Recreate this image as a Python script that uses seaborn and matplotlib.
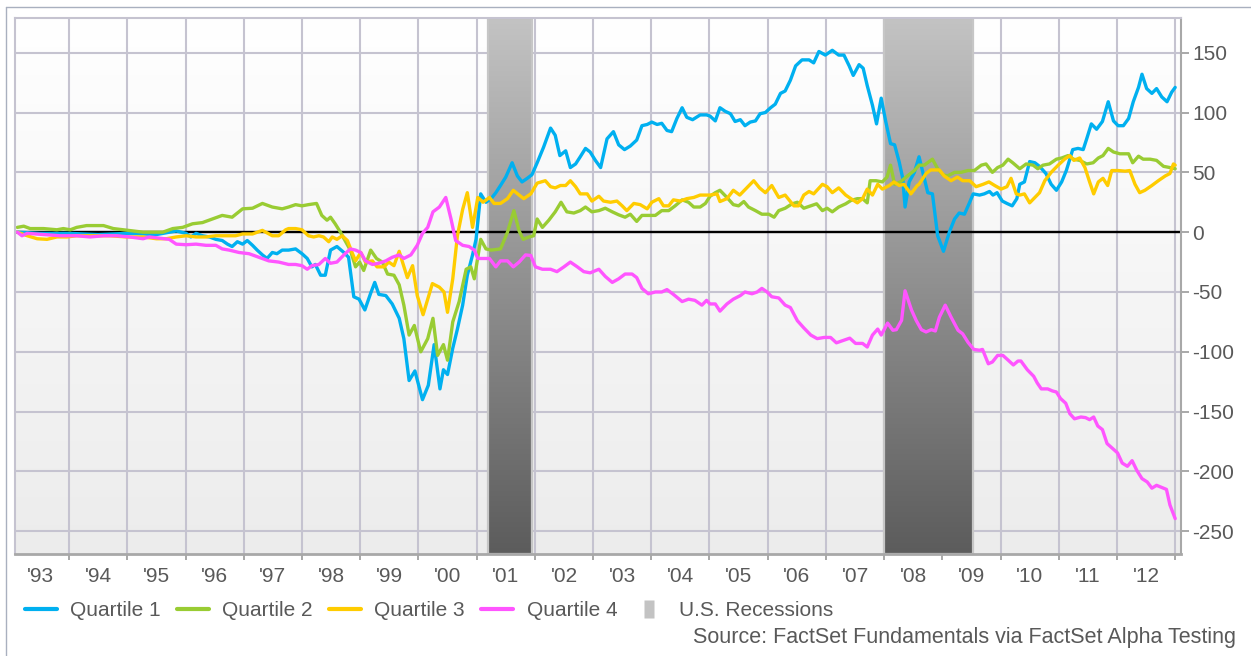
import numpy as np
import matplotlib
matplotlib.use('Agg')
import matplotlib.pyplot as plt
from matplotlib.colors import LinearSegmentedColormap
from matplotlib.patches import Rectangle
from matplotlib.lines import Line2D
import seaborn as sns

# readings taken off the reference chart (decimal years, index values)
q1_years = [1993.11, 1993.50, 1994.00, 1994.50, 1995.00, 1995.50, 1995.72, 1995.84, 1996.01, 1996.09,
            1996.18, 1996.29, 1996.41, 1996.52, 1996.63, 1996.72, 1996.80, 1996.89, 1996.98, 1997.06,
            1997.15, 1997.23, 1997.32, 1997.40, 1997.49, 1997.57, 1997.66,
            1997.77, 1997.89, 1998.00, 1998.09, 1998.17, 1998.23, 1998.32, 1998.40, 1998.49, 1998.60,
            1998.72, 1998.80, 1998.89, 1998.98, 1999.08, 1999.18, 1999.25, 1999.32, 1999.44, 1999.55,
            1999.67, 1999.75, 1999.84, 1999.94, 2000.07, 2000.17, 2000.27, 2000.37, 2000.43, 2000.50,
            2000.59, 2000.67, 2000.76, 2000.84, 2000.93, 2000.99, 2001.07, 2001.16, 2001.25, 2001.33,
            2001.41, 2001.50, 2001.61, 2001.70, 2001.78, 2001.87, 2001.95, 2002.04, 2002.15, 2002.27,
            2002.35, 2002.43, 2002.53, 2002.61, 2002.70, 2002.78, 2002.87, 2002.95, 2003.04, 2003.13,
            2003.24, 2003.35, 2003.44, 2003.54, 2003.64, 2003.75, 2003.84, 2003.93, 2004.01, 2004.10,
            2004.18, 2004.27, 2004.35, 2004.44, 2004.53, 2004.61, 2004.71, 2004.84, 2004.95,
            2005.01, 2005.10, 2005.18, 2005.27, 2005.36, 2005.44, 2005.53, 2005.61, 2005.70, 2005.79,
            2005.87, 2005.96, 2006.05, 2006.13, 2006.22, 2006.30, 2006.39, 2006.48, 2006.59, 2006.71,
            2006.79, 2006.88, 2006.99, 2007.11, 2007.22, 2007.31, 2007.40, 2007.47, 2007.57, 2007.64,
            2007.71, 2007.80, 2007.87, 2007.95, 2008.03, 2008.11, 2008.18, 2008.26, 2008.32, 2008.36,
            2008.43, 2008.52,
            2008.60, 2008.67, 2008.75, 2008.83, 2008.92, 2009.02, 2009.12, 2009.21, 2009.29, 2009.38,
            2009.47, 2009.53, 2009.64, 2009.72, 2009.81, 2009.87, 2009.94, 2010.03, 2010.11, 2010.20,
            2010.28, 2010.33, 2010.41, 2010.50, 2010.59, 2010.67, 2010.78, 2010.87, 2010.96, 2011.05,
            2011.13, 2011.24, 2011.33, 2011.42, 2011.48, 2011.56, 2011.65, 2011.75, 2011.85, 2011.94,
            2012.02, 2012.11, 2012.20, 2012.28, 2012.37, 2012.43, 2012.51, 2012.60, 2012.68, 2012.77,
            2012.86, 2012.94, 2013.00]
q1_vals = [0, -1, -1, -2, -1, -2, 0, 1, -1, -4,
           -1, -3, -4, -6, -7, -10, -12, -8, -10, -7,
           -11, -15, -19, -22, -17, -18, -15,
           -15, -14, -18, -22, -29, -27, -36, -36, -15, -12,
           -17, -21, -54, -56, -65, -51, -42, -52, -53, -60,
           -72, -89, -124, -116, -140, -128, -94, -131, -115, -119,
           -97, -81, -61, -36, -19, -6, 32, 25, 28, 33,
           39, 46, 58, 47, 42, 45, 48, 58, 71, 87,
           81, 64, 68, 54, 57, 63, 70, 67, 60, 54,
           78, 84, 73, 69, 72, 77, 89, 90, 92, 90,
           91, 85, 84, 95, 104, 96, 94, 98, 98,
           97, 93, 104, 101, 99, 92.5, 94, 89, 92, 93,
           99, 100, 104, 107, 116, 118, 127, 139, 144, 144,
           141.5, 151, 148, 152, 148, 148, 139, 131, 140, 137,
           122.5, 106, 90.5, 112, 92, 74, 73, 58.5, 45, 21,
           42, 50,
           63, 49, 33, 32, -3, -16, 0, 11, 16, 15,
           25, 32, 31, 32, 34, 31, 33, 26, 24, 22,
           28, 40, 42, 59, 58, 55, 49, 40, 35, 42,
           51.5, 69, 70, 69, 78, 90.5, 86, 92.5, 109, 93,
           89, 89, 95, 109, 121, 132, 120, 116, 120, 113,
           109, 117, 121]

q2_years = [1993.11, 1993.22, 1993.33, 1993.56, 1993.79, 1993.90, 1994.02, 1994.13, 1994.30, 1994.59,
            1994.76, 1994.93, 1995.10, 1995.27, 1995.44, 1995.61, 1995.78, 1995.95, 1996.12, 1996.29,
            1996.46, 1996.63, 1996.80, 1996.98, 1997.15, 1997.32, 1997.49, 1997.66,
            1997.77, 1997.89, 1998.00, 1998.11, 1998.25, 1998.34, 1998.43, 1998.49, 1998.57, 1998.66,
            1998.75, 1998.83, 1998.92, 1998.99, 1999.06, 1999.18, 1999.28, 1999.38, 1999.47, 1999.58,
            1999.67, 1999.75, 1999.84, 1999.93, 2000.04, 2000.16, 2000.25, 2000.33, 2000.43, 2000.50,
            2000.59, 2000.70, 2000.82, 2000.90, 2000.96, 2001.07, 2001.16, 2001.25,
            2001.41, 2001.53, 2001.64, 2001.73, 2001.80, 2001.90, 2001.98, 2002.04, 2002.13, 2002.24,
            2002.35, 2002.45, 2002.55, 2002.67, 2002.78, 2002.87, 2002.98, 2003.10, 2003.21, 2003.33,
            2003.44, 2003.55, 2003.64, 2003.75, 2003.84, 2003.95, 2004.07, 2004.18, 2004.30, 2004.41,
            2004.53, 2004.64, 2004.73, 2004.84, 2004.93,
            2005.01, 2005.10, 2005.18, 2005.30, 2005.41, 2005.50, 2005.59, 2005.67, 2005.79, 2005.90,
            2006.02, 2006.11, 2006.19, 2006.30, 2006.42, 2006.51, 2006.62, 2006.74, 2006.84, 2006.94,
            2007.02, 2007.11, 2007.22, 2007.34, 2007.43, 2007.54, 2007.63, 2007.71, 2007.76, 2007.86,
            2007.97, 2008.05, 2008.11, 2008.18, 2008.28, 2008.40, 2008.52,
            2008.60, 2008.69, 2008.83, 2008.92, 2009.01, 2009.09, 2009.21, 2009.32, 2009.44, 2009.55,
            2009.67, 2009.75, 2009.86, 2009.95, 2010.04, 2010.13, 2010.21, 2010.33, 2010.44, 2010.56,
            2010.64, 2010.73, 2010.84, 2010.96, 2011.05, 2011.16, 2011.25, 2011.36, 2011.48, 2011.59,
            2011.68, 2011.76, 2011.85, 2011.94, 2012.05, 2012.20, 2012.27, 2012.37, 2012.45, 2012.57,
            2012.68, 2012.80, 2012.91, 2013.00]
q2_vals = [4, 5, 3, 3, 2, 3, 2, 4, 5.5, 5.5,
           3, 2, 1, 0, 0, 0, 3, 4, 7, 8,
           11, 14, 12.5, 19.5, 20, 24, 21, 19.5,
           21, 23, 22, 23, 24, 14, 10, 12.5, 7, 0,
           -8, -15, -29, -25, -32, -15, -22, -25, -35, -36,
           -44, -61, -86, -78, -100, -89, -72, -103, -94, -107,
           -75, -58, -31, -29, -39, -6, -14, -15,
           -14, 0, 18, 1, -6, -4, -3, 11, 4, 10,
           17, 25, 17, 16, 18, 21, 17, 18, 20, 17,
           14.5, 12.5, 15, 9, 14, 14, 14, 18, 18, 22,
           27, 25, 21, 21, 24,
           30, 33, 35, 29, 23, 22, 25.6, 21, 18, 15,
           15, 12.5, 18, 20, 23.7, 25, 20, 22, 23.7, 18,
           20, 17, 21, 23.7, 26.5, 28, 28, 24.5, 43, 43,
           42, 46, 56, 40, 42, 47, 51.5,
           56, 56, 61, 53, 48, 47, 50, 50, 51.5, 51.5,
           56, 57, 50, 54, 56, 61, 58, 53, 57, 56,
           53, 56, 57, 61, 62, 64, 61, 60, 57, 58,
           62, 64, 70, 67, 65.5, 65.5, 58, 63.5, 61, 61,
           60, 55, 54, 53]

q3_years = [1993.11, 1993.28, 1993.45, 1993.62, 1993.79, 1993.96, 1994.13, 1994.36, 1994.70, 1994.98,
            1995.27, 1995.50, 1995.67, 1995.84, 1996.01, 1996.18, 1996.35, 1996.52, 1996.69, 1996.86,
            1996.98, 1997.15, 1997.32, 1997.49, 1997.60, 1997.72,
            1997.77, 1997.89, 1998.00, 1998.11, 1998.20, 1998.29, 1998.37, 1998.46, 1998.52, 1998.60,
            1998.69, 1998.78, 1998.86, 1998.92, 1999.01, 1999.09, 1999.21, 1999.29, 1999.41, 1999.49,
            1999.58, 1999.67, 1999.72, 1999.81, 1999.90, 1999.98, 2000.08, 2000.16, 2000.24, 2000.36,
            2000.44, 2000.50, 2000.59, 2000.67, 2000.76, 2000.84, 2000.93, 2001.02, 2001.11, 2001.22,
            2001.30,
            2001.41, 2001.53, 2001.63, 2001.73, 2001.81, 2001.93, 2002.04, 2002.18, 2002.27, 2002.35,
            2002.44, 2002.53, 2002.61, 2002.70, 2002.78, 2002.90, 2002.98, 2003.10, 2003.18, 2003.30,
            2003.41, 2003.50, 2003.58, 2003.70, 2003.81, 2003.93, 2004.01, 2004.13, 2004.21, 2004.30,
            2004.38, 2004.50, 2004.61, 2004.73, 2004.84, 2004.95,
            2005.01, 2005.13, 2005.18, 2005.30, 2005.41, 2005.52, 2005.64, 2005.76, 2005.86, 2005.96,
            2006.07, 2006.19, 2006.30, 2006.45, 2006.53, 2006.62, 2006.71, 2006.79, 2006.94, 2007.02,
            2007.11, 2007.22, 2007.34, 2007.43, 2007.54, 2007.63, 2007.71, 2007.80, 2007.89, 2007.97,
            2008.09, 2008.17, 2008.26, 2008.34, 2008.46, 2008.57,
            2008.60, 2008.72, 2008.80, 2008.95, 2009.03, 2009.15, 2009.26, 2009.35, 2009.47, 2009.58,
            2009.70, 2009.80, 2009.90, 2010.01, 2010.11, 2010.18, 2010.27, 2010.33, 2010.41, 2010.50,
            2010.59, 2010.67, 2010.76, 2010.87, 2010.99, 2011.10, 2011.19, 2011.26, 2011.36, 2011.45,
            2011.53, 2011.60, 2011.68, 2011.76, 2011.84, 2011.91, 2012.02, 2012.14, 2012.22, 2012.31,
            2012.39, 2012.48, 2012.60, 2012.71, 2012.83, 2012.91, 2012.97, 2013.00]
q3_vals = [0, -3, -5.5, -6, -4, -4, -3, -3, -3, -4,
           -4, -5.5, -5.5, -4, -3, -4, -4, -3, -3, -3,
           -1.5, -1.5, 1.5, -3, -3, 2,
           3, 3, 2, -3, -4, -3, -4, -8, -4, -6,
           -3, -7, -17, -24, -17, -25, -24, -29, -29, -25,
           -28, -16, -24, -38, -28, -53, -69, -56, -43, -46,
           -50, -67, -39, -3, 19, 33, 4, 29, 25, 29,
           24,
           24, 28, 35, 31, 28, 32, 41, 43, 38, 37,
           39, 39, 43, 38, 32, 32, 26, 30, 26, 25,
           26, 22, 18, 24, 23, 19.5, 25, 28, 22, 22,
           27, 26, 28, 29, 31, 31,
           31, 32, 25.6, 28, 35, 31, 37, 43, 37, 33,
           39, 29, 31, 22, 22, 31, 34, 32, 40, 38,
           33, 37, 31, 28, 24.5, 28, 36, 31, 40, 36,
           39, 42, 39, 40, 32, 39,
           40, 49, 52, 52, 47, 43, 46, 43, 43, 38,
           40, 42, 39, 36, 38, 45, 32, 31, 32, 24.5,
           29, 33, 43, 50, 56, 61, 64, 60, 62, 54,
           42, 32, 42, 45, 39, 51.5, 51.5, 51, 51.5, 40,
           33, 35, 39, 43, 47, 49, 57, 56]

q4_years = [1993.11, 1993.19, 1993.28, 1993.56, 1993.85, 1994.13, 1994.36, 1994.59, 1994.81, 1995.04,
            1995.27, 1995.38, 1995.55, 1995.72, 1995.84, 1996.01, 1996.18, 1996.35, 1996.52, 1996.63,
            1996.75, 1996.92, 1997.09, 1997.26, 1997.43, 1997.60,
            1997.77, 1997.89, 1998.00, 1998.09, 1998.17, 1998.29, 1998.40, 1998.49, 1998.60, 1998.72,
            1998.83, 1998.92, 1999.01, 1999.09, 1999.21, 1999.32, 1999.44, 1999.55, 1999.67, 1999.75,
            1999.87, 1999.98, 2000.07, 2000.16, 2000.25, 2000.36, 2000.47, 2000.56, 2000.64, 2000.76,
            2000.87, 2000.96, 2001.02, 2001.10, 2001.22, 2001.33,
            2001.41, 2001.53, 2001.63, 2001.73, 2001.84, 2001.93, 2002.01, 2002.13, 2002.27, 2002.38,
            2002.50, 2002.61, 2002.73, 2002.84, 2002.95, 2003.10, 2003.21, 2003.33, 2003.44, 2003.55,
            2003.67, 2003.75, 2003.84, 2003.95, 2004.07, 2004.18, 2004.27, 2004.38, 2004.53, 2004.64,
            2004.75, 2004.87, 2004.95,
            2005.01, 2005.10, 2005.18, 2005.30, 2005.41, 2005.53, 2005.61, 2005.73, 2005.82, 2005.90,
            2005.99, 2006.07, 2006.19, 2006.30, 2006.39, 2006.51, 2006.62, 2006.74, 2006.85, 2006.97,
            2007.08, 2007.18, 2007.30, 2007.41, 2007.51, 2007.63, 2007.71, 2007.80, 2007.89, 2007.95,
            2008.06, 2008.15, 2008.21, 2008.30, 2008.36, 2008.47, 2008.55, 2008.64, 2008.72, 2008.81,
            2008.88, 2008.95, 2009.05, 2009.15, 2009.27, 2009.35, 2009.44, 2009.54, 2009.64, 2009.69,
            2009.79, 2009.86, 2009.95, 2010.04, 2010.12, 2010.22, 2010.30, 2010.35, 2010.46, 2010.57,
            2010.63, 2010.70, 2010.81, 2010.89, 2010.96, 2011.03, 2011.12, 2011.19, 2011.27, 2011.38,
            2011.46, 2011.53, 2011.60, 2011.67, 2011.75, 2011.83, 2011.93, 2012.01, 2012.09, 2012.18,
            2012.26, 2012.34, 2012.43, 2012.52, 2012.60, 2012.68, 2012.75, 2012.85, 2012.91, 2013.00]
q4_vals = [0, -3, -1, -2, -3, -3, -4, -3, -3, -4,
           -5.5, -4, -5, -6, -10, -10.5, -10, -11, -11, -14,
           -15, -17, -18, -21, -24, -25,
           -27, -27, -28, -31, -28, -27, -22, -26, -25, -19,
           -14, -15, -17, -24, -27, -26, -24, -21, -19, -22,
           -19, -11, -1, 4, 17, 21, 29, 11, -7, -11,
           -12, -15, -22, -22, -22, -29,
           -24, -24, -29, -25, -19, -19.5, -29, -31, -31, -33,
           -29, -25, -29, -33, -34, -31, -37, -42, -39, -35,
           -35, -38, -47, -51.5, -50, -50, -48, -52, -58, -56,
           -57, -61, -57,
           -60, -60, -66, -60, -56, -53, -50, -51.5, -50, -47,
           -50, -54, -55, -61, -63, -74, -80, -86, -89, -88,
           -88, -92.5, -90.5, -88.6, -93, -93, -96, -86, -81, -86,
           -76, -82, -81.5, -73.7, -49, -65, -73.7, -81.5, -83.4, -81.5,
           -82.6, -71, -61, -71, -82, -85, -92, -98, -98.7, -98,
           -110, -108.5, -103, -103, -106.5, -111, -107.7, -107.7, -115, -120.5,
           -126, -131, -131, -132.7, -133.6, -139, -143, -151.7, -156, -154.5,
           -155, -156.7, -154.5, -162, -165, -176.7, -181, -184.5, -193, -195.7,
           -191, -199, -206, -208.8, -214, -211.6, -213, -215, -228, -239.4]

series_names = ['Quartile 1', 'Quartile 2', 'Quartile 3', 'Quartile 4']
series_colors = ['#00b0f0', '#99cc33', '#ffcc00', '#ff55ff']

rec_start = [2001.20, 2008.00]
rec_end = [2001.95, 2009.52]

year_ticks = list(range(1994, 2014))
year_label_pos = [y + 0.5 for y in range(1993, 2013)]
year_labels = ["'%02d" % (y % 100) for y in range(1993, 2013)]
y_ticks = [150, 100, 50, 0, -50, -100, -150, -200, -250]

sns.set_style('white')
plt.rcParams['font.family'] = ['Liberation Sans', 'DejaVu Sans']

W, H = 1251, 656
fig = plt.figure(figsize=(W / 100, H / 100), dpi=100)
ax = fig.add_axes([15 / W, 1 - 554 / H, (1181 - 15) / W, (554 - 18) / H])

x0, x1 = 1993.07, 2013.10
y0, y1 = -269, 179

# plot area background, white at top fading to light grey
bg = LinearSegmentedColormap.from_list('bg', ['#ffffff', '#ececec'])
ax.imshow(np.linspace(0, 1, 256).reshape(-1, 1), cmap=bg, aspect='auto',
          extent=(x0, x1, y0, y1), origin='upper', zorder=0)

# recession bands
band = LinearSegmentedColormap.from_list('band', ['#c3c3c3', '#5c5c5c'])
for s, e in zip(rec_start, rec_end):
    ax.imshow(np.linspace(0, 1, 256).reshape(-1, 1), cmap=band, aspect='auto',
              extent=(s, e, y0, y1), origin='upper', zorder=1)
    ax.add_patch(Rectangle((s, y0), e - s, y1 - y0, facecolor='none',
                           edgecolor='#c6c6c6', lw=1.6, zorder=1.1))

ax.axhline(0, color='black', lw=1.7, zorder=2.5)

data = [(q1_years, q1_vals), (q2_years, q2_vals), (q3_years, q3_vals), (q4_years, q4_vals)]
for (xs, ys), c in zip(data, series_colors):
    sns.lineplot(x=xs, y=ys, ax=ax, color=c, linewidth=2.4, zorder=3)

ax.set_xlim(x0, x1)
ax.set_ylim(y0, y1)
ax.set_xlabel('')
ax.set_ylabel('')

grid_c = '#c5c3d0'
ax.set_xticks(year_ticks)
ax.set_xticklabels([])
ax.set_xticks(year_label_pos, minor=True)
ax.set_xticklabels(year_labels, minor=True)
ax.tick_params(axis='x', which='major', bottom=True, length=4.5, width=1.4, color='#a8a8a8', direction='out')
ax.tick_params(axis='x', which='minor', bottom=True, length=0, pad=9.5, labelsize=15, labelcolor='#595959')

ax.yaxis.tick_right()
ax.set_yticks(y_ticks)
ax.set_yticklabels([str(v) for v in y_ticks])
ax.tick_params(axis='y', which='major', right=True, left=False, length=5.8, width=1.4,
               color='#a8a8a8', direction='out', pad=2.5, labelsize=15, labelcolor='#595959')

ax.grid(True, which='major', color=grid_c, lw=1.5, zorder=0.5)
for side in ['left', 'top']:
    ax.spines[side].set_color(grid_c)
    ax.spines[side].set_linewidth(1.5)
ax.spines['bottom'].set_color('#a8a8a8')
ax.spines['bottom'].set_linewidth(2)
ax.spines['right'].set_color('#a8a8a8')
ax.spines['right'].set_linewidth(1.5)
for sp in ax.spines.values():
    sp.set_zorder(4)

# legend along the bottom
handles = [Line2D([], [], color=c, lw=3) for c in series_colors]
box = [(-0.29, -0.5), (0.29, -0.5), (0.29, 0.5), (-0.29, 0.5)]
handles.append(Line2D([], [], marker=box, markersize=12.5, linestyle='none',
                      markerfacecolor='#c3c3c3', markeredgecolor='none'))
fig.legend(handles, series_names + ['U.S. Recessions'], loc='center left',
           bbox_to_anchor=(25 / W, 1 - 611 / H), ncol=5, frameon=False, fontsize=15,
           handlelength=1.55, handletextpad=0.63, columnspacing=0.77,
           borderpad=0, borderaxespad=0, labelcolor='#595959')

fig.text(1236 / W, 1 - 637 / H, 'Source: FactSet Fundamentals via FactSet Alpha Testing',
         ha='right', va='center', fontsize=15.5, color='#595959')

# outer frame
frame_c = '#a9b0bf'
fig.add_artist(Line2D([6 / W, 6 / W], [0, 1 - 7 / H], transform=fig.transFigure, color=frame_c, lw=1))
fig.add_artist(Line2D([6 / W, 1], [1 - 7 / H, 1 - 7 / H], transform=fig.transFigure, color=frame_c, lw=1))

fig.savefig('out.png', dpi=100)
